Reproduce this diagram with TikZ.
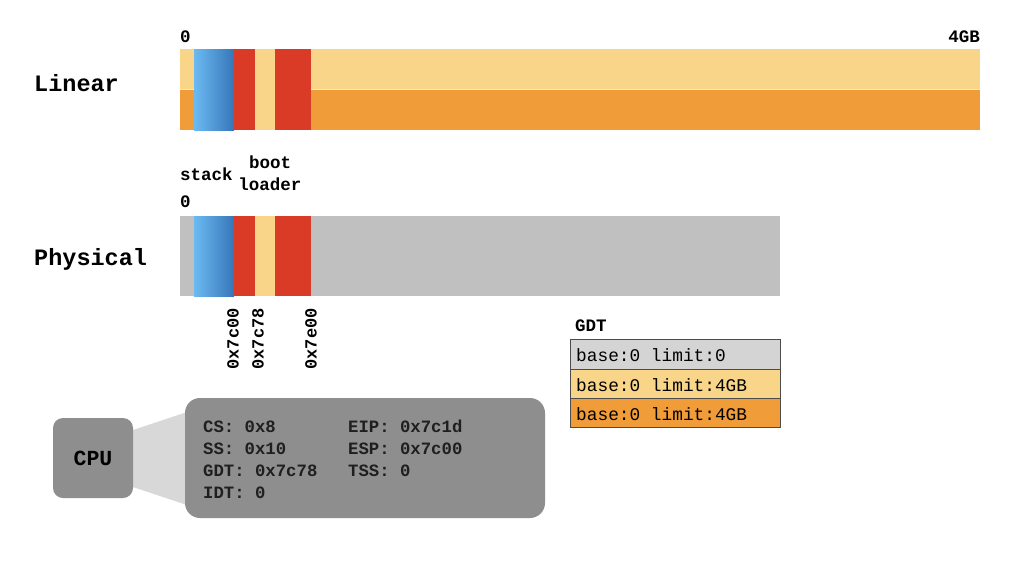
\documentclass[tikz,border=0pt]{standalone}
\usepackage{fontspec}
\setmainfont{Liberation Mono}
\definecolor{lyel}{HTML}{F8D589}
\definecolor{orng}{HTML}{F09C38}
\definecolor{redd}{HTML}{DA3B26}
\definecolor{bluel}{HTML}{6CBAF2}
\definecolor{blued}{HTML}{3676B8}
\definecolor{physg}{HTML}{C0C0C0}
\definecolor{gdtg}{HTML}{D4D4D4}
\definecolor{cpug}{HTML}{8E8E8E}
\definecolor{connc}{HTML}{D8D8D8}
\tikzset{
  biglbl/.style={inner sep=0, anchor=base west, font=\bfseries\fontsize{23.5}{26}\selectfont},
  lbl/.style={inner sep=0, font=\bfseries\fontsize{17.5}{20}\selectfont},
  cpulbl/.style={inner sep=0, font=\bfseries\fontsize{21.5}{24}\selectfont},
  rotlbl/.style={inner sep=0, rotate=90, anchor=east, font=\bfseries\fontsize{17}{20}\selectfont},
  reg/.style={inner sep=0, anchor=base west, text=black!88, font=\bfseries\fontsize{17.3}{20}\selectfont},
  gdtrow/.style={draw=black!70, line width=0.8pt},
  gdttxt/.style={inner sep=0, anchor=base west, font=\fontsize{17.8}{20}\selectfont},
}
\begin{document}
\begin{tikzpicture}[x=1pt,y=-1pt]
\useasboundingbox[fill=white] (0,0) rectangle (1024,581);

% Linear bar
\fill[lyel] (180,49) rectangle (980,89);
\fill[orng] (180,89) rectangle (980,130);
\draw[lyel!50!white, line width=0.8pt] (180,89) -- (980,89);
\shade[left color=bluel, right color=blued] (194,49) rectangle (234,130);
\fill[redd] (234,49) rectangle (255,130);
\fill[lyel] (255,49) rectangle (275,130);
\fill[redd] (275,49) rectangle (311,130);

% Physical bar
\fill[physg] (180,216) rectangle (780,296);
\shade[left color=bluel, right color=blued] (194,216) rectangle (234,296);
\fill[redd] (234,216) rectangle (255,296);
\fill[lyel] (255,216) rectangle (275,296);
\fill[redd] (275,216) rectangle (311,296);

% labels
\node[biglbl] (lin) at (34,91) {Linear};
\node[biglbl] (phys) at (34,265) {Physical};
\node[lbl, anchor=base west] (zero1) at (180,42) {0};
\node[lbl, anchor=base east] (fourgb) at (980,42) {4GB};
\node[lbl, anchor=base west] (stack) at (180,180) {stack};
\node[lbl, anchor=base] (boot) at (270,168) {boot};
\node[lbl, anchor=base] (loader) at (270,190) {loader};
\node[lbl, anchor=base west] (zero2) at (180,207) {0};
\node[rotlbl] (a1) at (233,308) {0x7c00};
\node[rotlbl] (a2) at (258,308) {0x7c78};
\node[rotlbl] (a3) at (311,308) {0x7e00};

% GDT
\node[lbl, anchor=base west] (gdtl) at (575,331) {GDT};
\draw[gdtrow, fill=gdtg] (570,339) rectangle (780,369);
\draw[gdtrow, fill=lyel] (570,369) rectangle (780,398);
\draw[gdtrow, fill=orng] (570,398) rectangle (780,427);
\node[gdttxt] (g1) at (576,361) {base:0 limit:0};
\node[gdttxt] (g2) at (576,391) {base:0 limit:4GB};
\node[gdttxt] (g3) at (576,420) {base:0 limit:4GB};

% CPU
\fill[connc] (133,430) -- (190,411) -- (190,506) -- (133,487) -- cycle;
\node[fill=cpug, rounded corners=10pt, minimum width=80pt, minimum height=80pt, inner sep=0] (cpu) at (93,458) {};
\node[cpulbl] (cputxt) at (cpu.center) {CPU};
\node[fill=cpug, rounded corners=15pt, minimum width=360pt, minimum height=120pt, inner sep=0] (regs) at (365,458) {};
\node[reg] (r1) at (203,432) {CS: 0x8};
\node[reg] (r2) at (203,454) {SS: 0x10};
\node[reg] (r3) at (203,476) {GDT: 0x7c78};
\node[reg] (r4) at (203,498) {IDT: 0};
\node[reg] (r5) at (348,432) {EIP: 0x7c1d};
\node[reg] (r6) at (348,454) {ESP: 0x7c00};
\node[reg] (r7) at (348,476) {TSS: 0};
\end{tikzpicture}
\end{document}
